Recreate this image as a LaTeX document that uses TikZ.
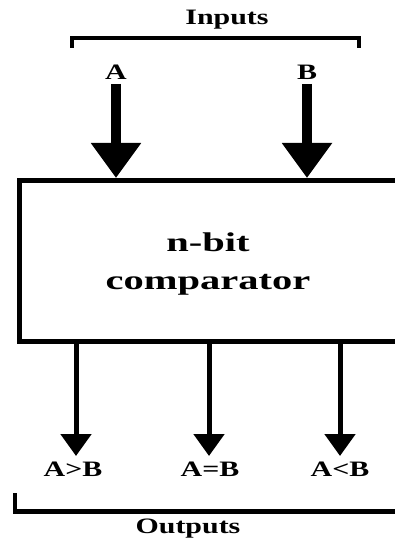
\documentclass[tikz,border=0pt]{standalone}
\usepackage{fontspec}
\setmainfont{Liberation Serif}
\usetikzlibrary{arrows.meta}
\newcommand\wide[2][1.36]{\scalebox{#1}[1]{#2}}
\begin{document}
\begin{tikzpicture}[x=1pt,y=-1pt,
  lbl/.style={font=\fontsize{22}{26}\selectfont\bfseries, inner sep=0pt},
  inarrow/.style={line width=10pt, -{Triangle[width=48pt,length=35pt]}},
  outarrow/.style={line width=5pt, -{Triangle[width=30pt,length=22pt]}},
  brace/.style={line width=4.5pt, line cap=butt, line join=miter}]
\useasboundingbox (0,0) rectangle (395,540);
\clip (0,0) rectangle (395,540);
% box
\node (box) [draw, line width=4.5pt, minimum width=383pt, minimum height=161pt,
  anchor=north west, inner sep=0pt] at (17,178) {};
\node (title) [font=\fontsize{27}{38}\selectfont\bfseries, align=center, inner sep=0pt]
  at (208,264) {\wide[1.5]{n-bit}\\\wide[1.5]{comparator}};
% inputs
\node (inputs) [lbl] at (227,20) {\wide{Inputs}};
\coordinate (ibl) at (72,48);
\coordinate (ibr) at (359,48);
\draw[brace] (ibl) -- ++(0,-10) -- (ibr |- 0,38) -- (ibr);
\node (a) [lbl] at (116,72) {\wide{A}};
\node (b) [lbl] at (307,72) {\wide{B}};
\draw[inarrow] (a.south |- 0,84) -- (a.south |- box.north);
\draw[inarrow] (b.south |- 0,84) -- (b.south |- box.north);
% outputs
\node (gt) [lbl] at (73,469) {\wide{A>B}};
\node (eq) [lbl] at (210,469) {\wide{A=B}};
\node (lt) [lbl] at (340,469) {\wide{A<B}};
\draw[outarrow] (76,339) -- (76,456);
\draw[outarrow] (209,339) -- (209,456);
\draw[outarrow] (340,339) -- (340,456);
\coordinate (obl) at (15,493);
\draw[brace] (obl) -- (15,511.5) -- (400,511.5);
\node (outputs) [lbl] at (188,529) {\wide{Outputs}};
\end{tikzpicture}
\end{document}
